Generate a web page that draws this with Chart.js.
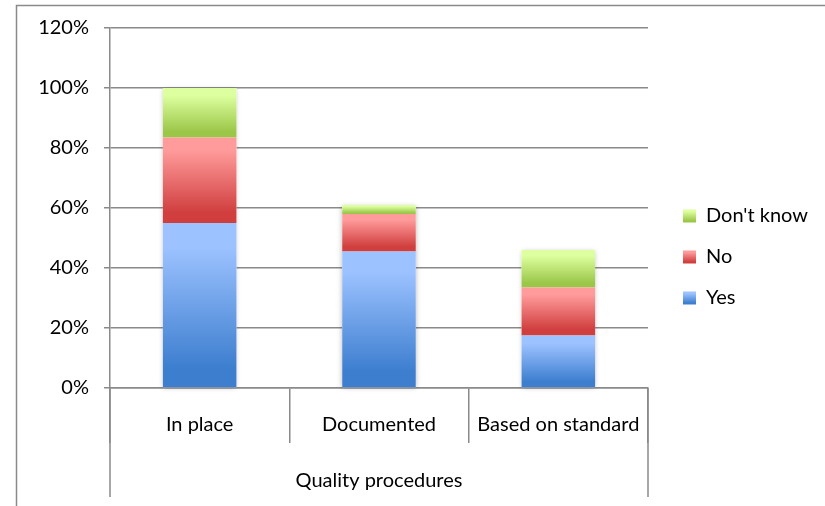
<!DOCTYPE html>
<html>
<head>
<meta charset="utf-8">
<script src="https://cdn.jsdelivr.net/npm/chart.js@4/dist/chart.umd.min.js"></script>
<style>
  html, body { margin: 0; padding: 0; background: #ffffff; }
  #wrap { width: 825px; height: 506px; position: relative; }
</style>
</head>
<body>
<div id="wrap"><canvas id="chart" width="825" height="506"></canvas></div>
<script>
// Quality procedures survey: share of answers per question (percent)
const categories = ['In place', 'Documented', 'Based on standard'];
const yesValues = [55, 45.5, 17.5];
const noValues = [28.5, 12.5, 16];
const dontKnowValues = [16.5, 3, 12.5];
const axisTitle = 'Quality procedures';
const yTicks = [0, 20, 40, 60, 80, 100, 120];

const FONT = 'Lato, "Open Sans", sans-serif';
const FONT_SIZE = 20;
const GRID = '#8a8a8a';

// series, bottom of the stack first; gradient runs light (top) to dark (bottom)
const series = [
  { label: 'Yes', values: yesValues, light: '#9cc2ff', dark: '#3d7ecf' },
  { label: 'No', values: noValues, light: '#ff9b9b', dark: '#d03e3e' },
  { label: "Don't know", values: dontKnowValues, light: '#ddff9f', dark: '#9bc749' }
];

function makeGradient(ctx2d, s, top, bottom) {
  const g = ctx2d.createLinearGradient(0, top, 0, bottom);
  g.addColorStop(0, s.light);
  g.addColorStop(0.15, s.light);
  g.addColorStop(0.88, s.dark);
  g.addColorStop(1, s.dark);
  return g;
}

function segmentFill(context) {
  const chart = context.chart;
  const s = series[context.datasetIndex];
  if (context.type !== 'data' || !chart.chartArea || !chart.scales.y) return s.dark;
  const i = context.dataIndex;
  let below = 0;
  for (let d = 0; d < context.datasetIndex; d++) below += series[d].values[i];
  const y = chart.scales.y;
  const top = y.getPixelForValue(below + s.values[i]);
  const bottom = y.getPixelForValue(below);
  return makeGradient(chart.ctx, s, top, bottom);
}

// frame, bar shadows, outer category dividers, legend placement
const decorations = {
  id: 'decorations',
  beforeLayout(chart) {
    const legend = chart.legend;
    if (legend && !legend._fixedFit) {
      const fit = legend.fit;
      legend.fit = function () { fit.call(this); this.width = 177; };
      legend._fixedFit = true;
    }
  },
  afterLayout(chart) {
    const legend = chart.legend;
    if (!legend) return;
    legend.left = 662; legend.right = 825;
    legend.top = 185; legend.bottom = 506;
  },
  beforeDraw(chart) {
    const ctx = chart.ctx;
    ctx.save();
    ctx.strokeStyle = GRID;
    ctx.lineWidth = 1.5;
    ctx.strokeRect(16.5, 5.5, 900, 600);
    ctx.restore();
    // legend swatches get the same gradients as the bars
    const legend = chart.legend;
    if (legend && legend.legendItems && legend.legendHitBoxes) {
      legend.legendItems.forEach((item, k) => {
        const box = legend.legendHitBoxes[k];
        const s = series[item.datasetIndex];
        if (!box || !s) return;
        const top = box.top + (box.height - 13) / 2;
        item.fillStyle = makeGradient(ctx, s, top, top + 13);
        item.lineWidth = 0;
      });
    }
  },
  beforeDatasetsDraw(chart) {
    const ctx = chart.ctx;
    const first = chart.getDatasetMeta(0);
    const last = chart.getDatasetMeta(chart.data.datasets.length - 1);
    ctx.save();
    ctx.shadowColor = 'rgba(0,0,0,0.28)';
    ctx.shadowBlur = 5;
    ctx.shadowOffsetX = 0;
    ctx.shadowOffsetY = 1;
    ctx.fillStyle = '#ffffff';
    first.data.forEach((bar, i) => {
      const topBar = last.data[i];
      const w = bar.width;
      ctx.fillRect(bar.x - w / 2, topBar.y, w, bar.base - topBar.y);
    });
    ctx.restore();
  },
  afterDraw(chart) {
    const x = chart.scales.x;
    const ctx = chart.ctx;
    ctx.save();
    ctx.strokeStyle = GRID;
    ctx.lineWidth = 1.5;
    ctx.beginPath();
    [x.left, x.right].forEach(px => {
      ctx.moveTo(px, x.top);
      ctx.lineTo(px, x.bottom - 9);
    });
    ctx.stroke();
    ctx.restore();
  }
};

Chart.defaults.font.family = FONT;
Chart.defaults.font.size = FONT_SIZE;
Chart.defaults.color = '#000000';

new Chart(document.getElementById('chart'), {
  type: 'bar',
  data: {
    labels: categories,
    datasets: series.map(s => ({
      label: s.label,
      data: s.values,
      backgroundColor: segmentFill,
      borderWidth: 0,
      categoryPercentage: 1,
      barPercentage: 0.41
    }))
  },
  options: {
    responsive: false,
    animation: false,
    events: [],
    layout: { padding: { top: 28, left: 0, right: 0, bottom: 0 } },
    plugins: {
      legend: {
        position: 'right',
        align: 'start',
        reverse: true,
        labels: {
          boxWidth: 13,
          boxHeight: 13,
          padding: 21,
          font: { family: FONT, size: FONT_SIZE },
          color: '#000000'
        }
      },
      tooltip: { enabled: false }
    },
    scales: {
      x: {
        stacked: true,
        grid: {
          offset: true,
          drawOnChartArea: false,
          drawTicks: true,
          tickLength: 55,
          color: GRID,
          lineWidth: 1.5
        },
        border: { display: true, color: GRID, width: 1.5 },
        ticks: { padding: -30, font: { family: FONT, size: FONT_SIZE }, color: '#000000', maxRotation: 0 },
        title: {
          display: true,
          text: axisTitle,
          font: { family: FONT, size: FONT_SIZE },
          color: '#000000',
          padding: { top: 0, bottom: 13 }
        },
        afterFit(scale) { scale.height = 118; }
      },
      y: {
        stacked: true,
        min: 0,
        max: 120,
        afterBuildTicks(scale) { scale.ticks = yTicks.map(v => ({ value: v })); },
        grid: { color: GRID, lineWidth: 1.5, tickLength: 6 },
        border: { display: true, color: GRID, width: 1.5 },
        ticks: {
          padding: 15,
          font: { family: FONT, size: FONT_SIZE },
          color: '#000000',
          callback: v => v + '%'
        },
        afterFit(scale) { scale.width = 110; }
      }
    }
  },
  plugins: [decorations]
});
</script>
</body>
</html>
